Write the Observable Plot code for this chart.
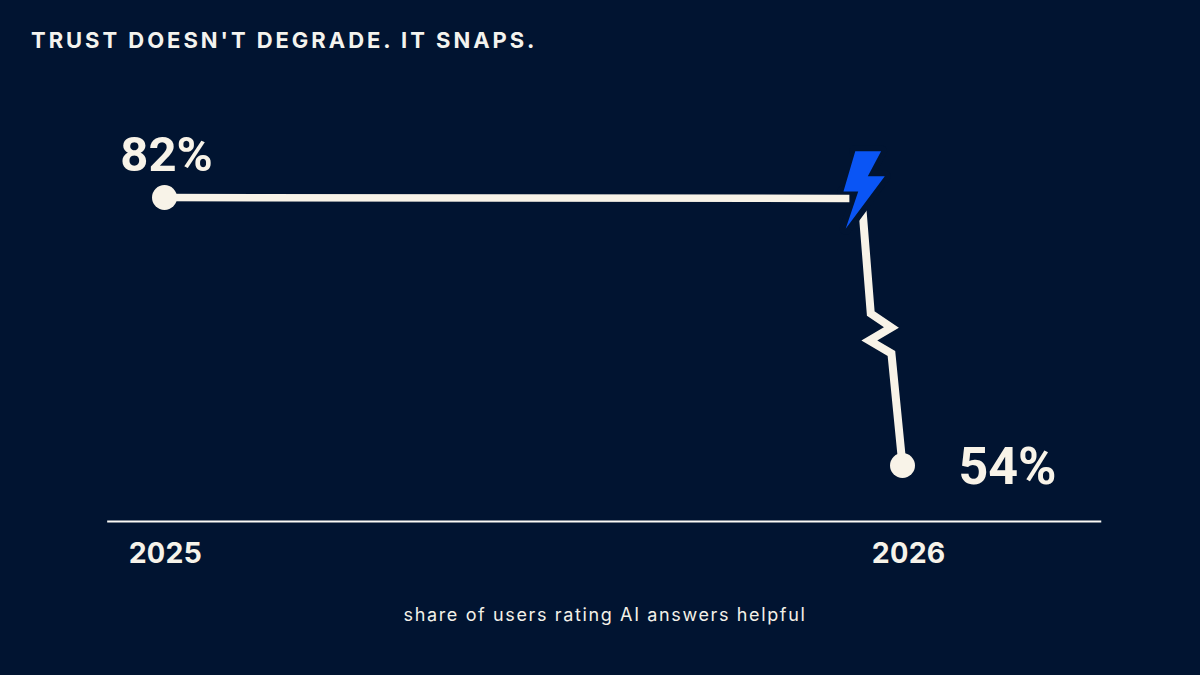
<!DOCTYPE html>
<html>
<head>
<meta charset="utf-8">
<script src="https://cdn.jsdelivr.net/npm/d3@7"></script>
<script src="https://cdn.jsdelivr.net/npm/@observablehq/plot@0.6"></script>
<style>
html,body{margin:0;padding:0;background:#011431;width:1200px;height:675px;overflow:hidden;font-family:Inter,sans-serif;}
#title{height:60px;box-sizing:border-box;padding:27px 0 0 31px;color:#f4f3ee;font-size:22px;line-height:26px;font-weight:700;letter-spacing:2.96px;white-space:nowrap;}
#caption{height:85px;box-sizing:border-box;padding-top:14px;padding-left:10px;text-align:center;color:#f4f1e8;font-size:18px;line-height:22px;font-weight:400;letter-spacing:1.63px;}
#chart svg{display:block;}
</style>
</head>
<body>
<div id="title">TRUST DOESN'T DEGRADE. IT SNAPS.</div>
<div id="chart"></div>
<div id="caption">share of users rating AI answers helpful</div>
<script>
const endYears = [2025, 2026];
const endValues = [82, 54];
const endLabels = ["82%", "54%"];

const flatYears = [2025, 2025.928];
const flatValues = [82, 81.9];

const dropYears = [2025.945, 2025.957, 2025.985, 2025.955, 2025.985, 2026];
const dropValues = [81.48, 69.88, 68.42, 67.06, 65.7, 54];

const boltYears = [2025.936, 2025.971, 2025.953, 2025.976, 2025.923, 2025.940, 2025.920];
const boltValues = [86.84, 86.84, 84.23, 84.23, 78.73, 82.63, 82.63];

const yearTicks = [2025.001, 2026.008];
const axisValue = 48.15;
const axisYears = [2024.923, 2026.27];

const cream = "#f8f3e8";
const ground = "#011431";
const font = "Inter, sans-serif";
const valueFont = "Roboto, sans-serif";

const flat = flatYears.map((x, i) => ({x, y: flatValues[i]}));
const drop = dropYears.map((x, i) => ({x, y: dropValues[i]}));
const bolt = boltYears.map((x, i) => ({x, y: boltValues[i]}));
const ends = endYears.map((x, i) => ({x, y: endValues[i], label: endLabels[i]}));

const chart = Plot.plot({
  width: 1200,
  height: 530,
  marginTop: 0,
  marginLeft: 0,
  marginRight: 0,
  marginBottom: 69,
  style: {background: ground, fontFamily: font},
  x: {domain: [2025, 2026], range: [164, 902]},
  y: {domain: [82, 54], range: [137, 405], axis: null},
  marks: [
    Plot.axisX({
      ticks: yearTicks, tickFormat: "d", tickSize: 0, tickPadding: 21, label: null,
      fontSize: 28.5, fontWeight: 700, color: "#f6f3ea", fill: "#f6f3ea"
    }),
    Plot.ruleY([axisValue], {x1: axisYears[0], x2: axisYears[1], stroke: "#fbfaf5", strokeWidth: 2}),
    Plot.line(drop, {x: "x", y: "y", stroke: cream, strokeWidth: 8, strokeLinecap: "butt", strokeLinejoin: "miter", strokeMiterlimit: 6}),
    Plot.line(bolt, {x: "x", y: "y", stroke: ground, strokeWidth: 12}),
    Plot.line(flat, {x: "x", y: "y", stroke: cream, strokeWidth: 7.5, strokeLinecap: "butt"}),
    Plot.line(bolt, {x: "x", y: "y", fill: "#0a55f5", stroke: "none"}),
    Plot.dot(ends, {x: "x", y: "y", r: 12.5, fill: cream, stroke: "none"}),
    Plot.text(ends.slice(0, 1), {x: "x", y: "y", text: "label", dx: 2, dy: -42, fontSize: 49, fontWeight: 700, fontFamily: valueFont, fill: cream}),
    Plot.text(ends.slice(1), {x: "x", y: "y", text: "label", dx: 105, dy: 2, fontSize: 52, fontWeight: 700, fontFamily: valueFont, fill: cream})
  ]
});
document.getElementById("chart").append(chart);
</script>
</body>
</html>
